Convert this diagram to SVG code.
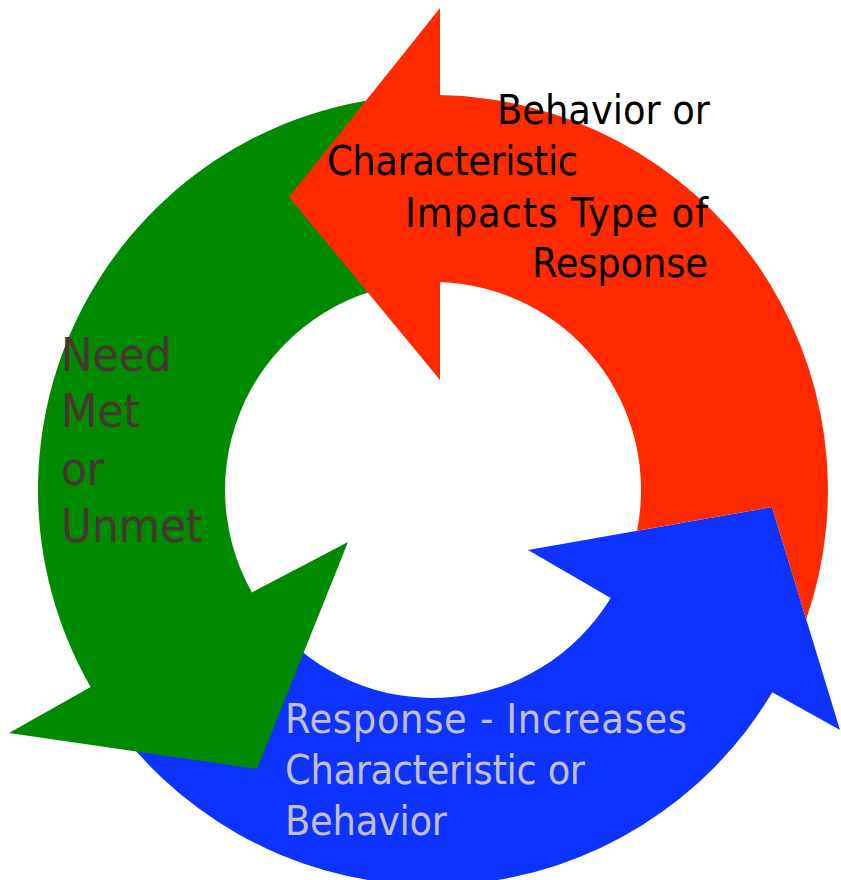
<svg xmlns="http://www.w3.org/2000/svg" width="841" height="880" viewBox="0 0 841 880">
<style>
.lbl{font-family:"DejaVu Sans Condensed","DejaVu Sans",sans-serif;font-stretch:condensed}
.t1{font-size:41px;fill:#000000}
.t2{font-size:41px;fill:#C0C0C0}
.t3{font-size:47px;fill:#4A3434}
</style>
<rect width="841" height="880" fill="#FFFFFF"/>
<g id="connectors">
<path id="arrow-blue" fill="#0E32FF" d="M130,744 A395,395 0 0 0 772.3,692.2 L840,730 L772,507 L528,550 L610.7,598.1 A208,208 0 0 1 273.7,623.7 Z"/>
<path id="arrow-green" fill="#008A00" d="M419.2,95.2 A395,395 0 0 0 90.6,686.9 L9,733 L257,769 L348,542 L252,592.4 A208,208 0 0 1 425.7,282.1 Z"/>
<path id="arrow-red" fill="#FF2A00" d="M806.2,619.3 A395,395 0 0 0 440,95.1 L440,8 L289,197 L440,380 L440,282.1 A208,208 0 0 1 637,530.8 L772,507 Z"/>
</g>
<g id="node-behavior">
<text class="lbl t1" x="497" y="124" textLength="213">Behavior or</text>
<text class="lbl t1" x="327" y="175" textLength="251">Characteristic</text>
<text class="lbl t1" x="405" y="227" textLength="303">Impacts Type of</text>
<text class="lbl t1" x="532" y="277" textLength="176">Response</text>
</g>
<g id="node-response">
<text class="lbl t2" x="285" y="733" textLength="402">Response - Increases</text>
<text class="lbl t2" x="285" y="784" textLength="300">Characteristic or</text>
<text class="lbl t2" x="285" y="835" textLength="162">Behavior</text>
</g>
<g id="node-need">
<text class="lbl t3" x="61" y="371">Need</text>
<text class="lbl t3" x="61" y="427">Met</text>
<text class="lbl t3" x="61" y="485">or</text>
<text class="lbl t3" x="61" y="542">Unmet</text>
</g>
</svg>
